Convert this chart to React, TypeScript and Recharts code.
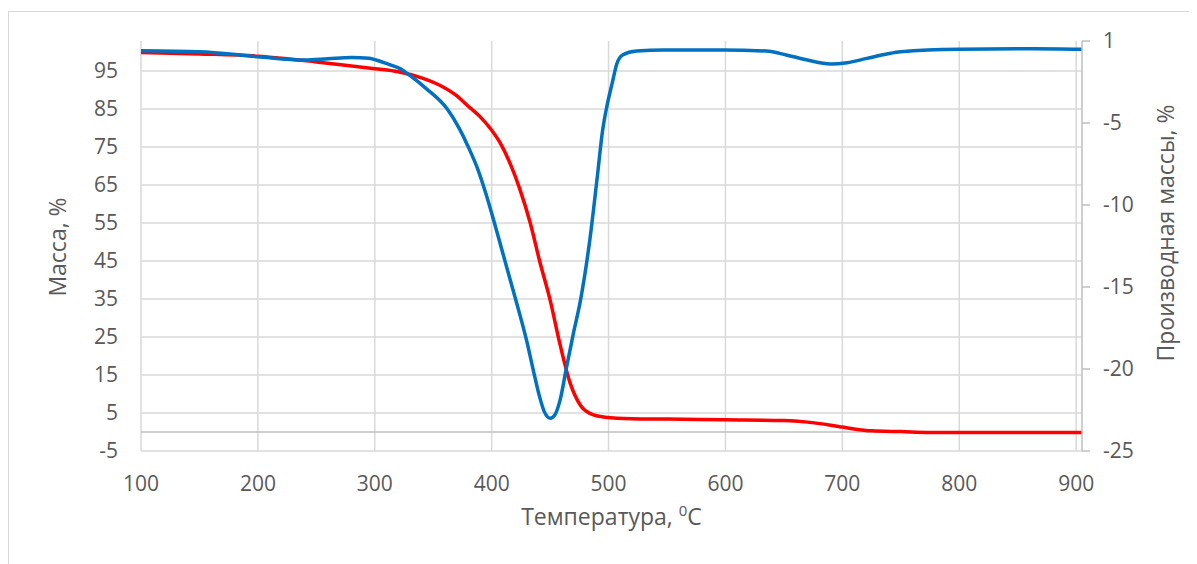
import React from 'react';
import { LineChart, Line, XAxis, YAxis, CartesianGrid, ReferenceLine, Label } from 'recharts';

// Температура, °C — масса (ТГ)
const massTemp = [100, 150, 200, 250, 300, 320, 340, 356, 370, 379, 390, 399, 407, 416, 424, 433, 441, 450, 458.5, 467, 476, 484, 497, 520, 550, 600, 650, 670, 690, 700, 710, 725, 750, 775, 800, 900, 905];
const massValues = [99.9, 99.5, 98.9, 97.4, 95.6, 94.8, 93.2, 91.2, 88.5, 86, 83, 79.8, 76.2, 70.5, 64, 55, 45, 34.7, 23, 13, 7, 4.9, 3.9, 3.5, 3.4, 3.2, 3.0, 2.6, 1.8, 1.3, 0.8, 0.3, 0.1, -0.1, -0.1, -0.1, -0.1];

// производная массы (ДТГ)
const derivTemp = [100, 150, 200, 240, 260, 280, 295, 305, 315, 322, 330, 344, 362, 372, 380, 388, 395, 402, 409, 416, 423, 430, 436, 441, 445, 450, 454, 458.5, 464, 470, 476, 484, 490, 495, 498.5, 503, 507, 512, 524, 547, 598, 635, 652, 670, 690, 704, 721, 738, 750, 800, 863, 905];
const derivValues = [-0.59, -0.65, -0.96, -1.16, -1.08, -1.0, -1.05, -1.25, -1.5, -1.7, -2.1, -2.9, -4.15, -5.3, -6.46, -7.8, -9.3, -11.0, -12.8, -14.6, -16.4, -18.3, -20.2, -21.7, -22.6, -23.0, -22.8, -21.9, -19.9, -17.8, -15.8, -12.1, -8.5, -5.4, -4.0, -2.6, -1.4, -0.85, -0.61, -0.55, -0.55, -0.61, -0.85, -1.16, -1.4, -1.32, -1.06, -0.79, -0.65, -0.5, -0.47, -0.5];

const tempTicks = [100, 200, 300, 400, 500, 600, 700, 800, 900];
const massTicks = [-5, 5, 15, 25, 35, 45, 55, 65, 75, 85, 95];
const derivTicks = [-25, -20, -15, -10, -5, 0];
const derivTickLabels = ['-25', '-20', '-15', '-10', '-5', '1'];

const massData = massTemp.map((t, i) => ({ t, m: massValues[i] }));
const derivData = derivTemp.map((t, i) => ({ t, d: derivValues[i] }));

const FONT = '"Open Sans", sans-serif';
const TEXT = '#595959';
const GRID = '#d9d9d9';
const AXIS = '#bfbfbf';

const tickStyle = { fill: TEXT, fontSize: 21, fontFamily: FONT };

const XTitle = (props: any) => {
  const vb = props.viewBox;
  const cx = vb.x + vb.width / 2;
  return (
    <text x={cx} y={517} textAnchor="middle" fill={TEXT} fontSize={23} fontFamily={FONT}>
      <tspan>Температура, </tspan>
      <tspan fontSize={15} dy={-9}>0</tspan>
      <tspan dy={9}>C</tspan>
    </text>
  );
};

const LeftTitle = () => (
  <text x={0} y={0} transform="translate(49 239) rotate(-90)" textAnchor="middle" dominantBaseline="central" fill={TEXT} fontSize={23} fontFamily={FONT}>
    Масса, %
  </text>
);

const RightTitle = () => (
  <text x={0} y={0} transform="translate(1157 225) rotate(-90)" textAnchor="middle" dominantBaseline="central" fill={TEXT} fontSize={23} fontFamily={FONT}>
    Производная массы, %
  </text>
);

export default function App() {
  return (
    <div style={{ position: 'relative', width: 1189, height: 556, overflow: 'hidden', background: '#fff' }}>
      <div style={{ position: 'absolute', left: 0, top: 3, width: 1400, height: 800, border: `1px solid ${GRID}`, boxSizing: 'border-box' }} />
      <LineChart width={1189} height={556} margin={{ top: 33, right: 0, bottom: 0, left: 0 }}>
        <CartesianGrid yAxisId="left" stroke={GRID} strokeWidth={1.5} horizontalValues={massTicks} verticalValues={tempTicks} />
        <XAxis
          type="number"
          dataKey="t"
          domain={[100, 905]}
          ticks={tempTicks}
          interval={0}
          allowDataOverflow
          axisLine={false}
          tickLine={false}
          tickSize={0}
          tickMargin={25}
          height={113}
          tick={tickStyle}
        >
          <Label content={XTitle} />
        </XAxis>
        <YAxis
          yAxisId="left"
          type="number"
          domain={[-5, 102.9]}
          ticks={massTicks}
          interval={0}
          allowDataOverflow
          axisLine={false}
          tickLine={false}
          tickSize={0}
          tickMargin={23}
          width={133}
          tick={tickStyle}
        >
          <Label content={LeftTitle} />
        </YAxis>
        <YAxis
          yAxisId="right"
          orientation="right"
          type="number"
          domain={[-25, 0]}
          ticks={derivTicks}
          interval={0}
          allowDataOverflow
          axisLine={{ stroke: AXIS, strokeWidth: 1.5 }}
          tickLine={{ stroke: AXIS, strokeWidth: 1.5 }}
          tickSize={8}
          tickMargin={13}
          width={115}
          tick={tickStyle}
          tickFormatter={(v: number) => derivTickLabels[derivTicks.indexOf(v)]}
        >
          <Label content={RightTitle} />
        </YAxis>
        <ReferenceLine yAxisId="left" y={0} stroke={AXIS} strokeWidth={1.5} />
        <Line
          yAxisId="left"
          data={massData}
          dataKey="m"
          type="monotone"
          stroke="#ff0000"
          strokeWidth={3.5}
          dot={false}
          isAnimationActive={false}
        />
        <Line
          yAxisId="right"
          data={derivData}
          dataKey="d"
          type="monotone"
          stroke="#0070c0"
          strokeWidth={3.5}
          dot={false}
          isAnimationActive={false}
        />
      </LineChart>
    </div>
  );
}
